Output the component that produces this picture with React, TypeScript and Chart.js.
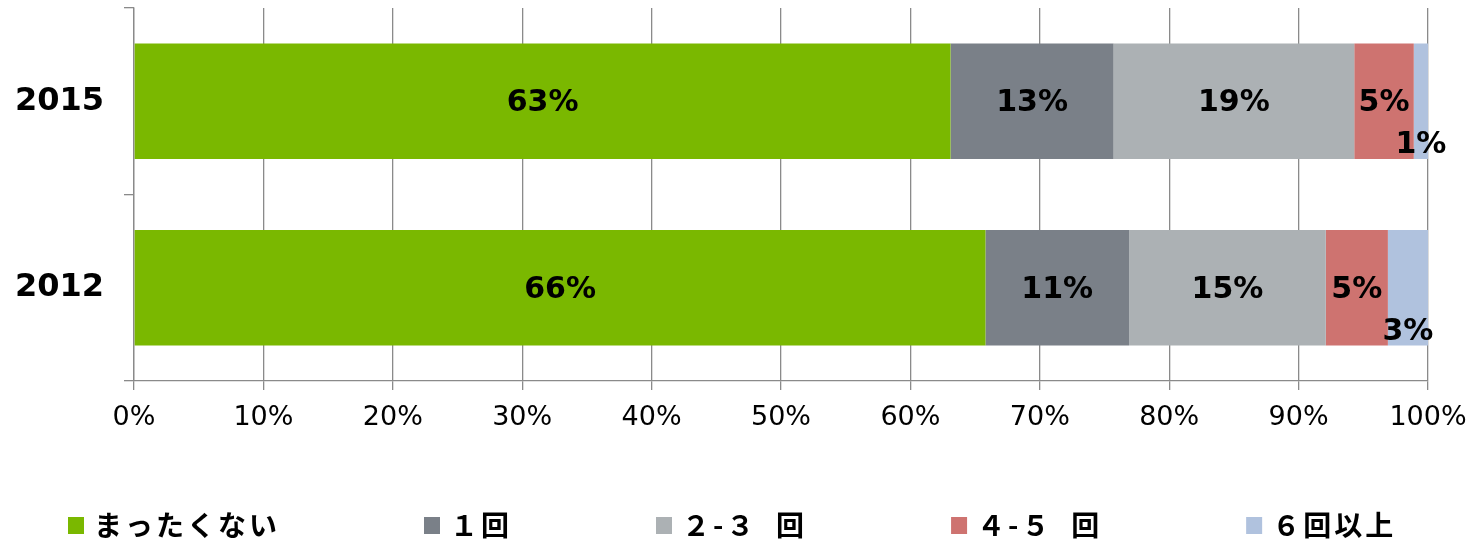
import React, { useEffect, useRef } from "react";
import { Chart, registerables } from "chart.js";

Chart.register(...registerables);

const categories = ["2015", "2012"];
const seriesNames = ["まったくない", "１回", "２-３  回", "４-５  回", "６回以上"];
const neverValues = [63.1, 65.8];
const onceValues = [12.6, 11.1];
const twoThreeValues = [18.6, 15.2];
const fourFiveValues = [4.6, 4.8];
const sixPlusValues = [1.1, 3.1];
const xTickValues = [0, 10, 20, 30, 40, 50, 60, 70, 80, 90, 100];

const colors = ["#7AB800", "#7A8088", "#ACB1B4", "#CE7370", "#B0C2DE"];
const labelOffsetY = [0, 0, 0, 0, 42];
const GRID = "#8a8a8a";

const dataLabelPlugin = {
  id: "dataLabels",
  afterDatasetsDraw(chart: any) {
    const ctx = chart.ctx;
    ctx.save();
    ctx.font = "bold 30px 'DejaVu Sans'";
    ctx.fillStyle = "#000";
    ctx.textAlign = "center";
    ctx.textBaseline = "middle";
    chart.data.datasets.forEach((ds: any, di: number) => {
      const meta = chart.getDatasetMeta(di);
      meta.data.forEach((bar: any, i: number) => {
        const v = ds.data[i];
        const cx = (bar.x + bar.base) / 2;
        const cy = bar.y + (labelOffsetY[di] || 0);
        ctx.fillText(Math.round(v) + "%", cx, cy + 2);
      });
    });
    ctx.restore();
  },
};

const legendPlugin = {
  id: "customLegend",
  afterDraw(chart: any) {
    const ctx = chart.ctx;
    ctx.save();
    ctx.font = "bold 28px 'Noto Sans CJK JP'";
    (ctx as any).letterSpacing = "3px";
    ctx.textBaseline = "middle";
    ctx.textAlign = "left";
    let x = 68;
    const y = 525;
    chart.data.datasets.forEach((ds: any) => {
      ctx.fillStyle = ds.backgroundColor;
      ctx.fillRect(x, y - 8, 16, 17);
      ctx.fillStyle = "#000";
      const tx = x + 26;
      ctx.fillText(ds.label, tx, y);
      const w = ctx.measureText(ds.label).width;
      x = tx + w + 144;
    });
    ctx.restore();
  },
};

export default function App() {
  const ref = useRef<HTMLCanvasElement | null>(null);
  useEffect(() => {
    if (!ref.current) return;
    const seriesValues = [neverValues, onceValues, twoThreeValues, fourFiveValues, sixPlusValues];
    const chart = new Chart(ref.current, {
      type: "bar",
      data: {
        labels: categories,
        datasets: seriesNames.map((name, i) => ({
          label: name,
          data: seriesValues[i],
          backgroundColor: colors[i],
          borderWidth: 0,
          categoryPercentage: 1,
          barPercentage: 0.62,
        })),
      },
      options: {
        indexAxis: "y",
        animation: false,
        responsive: true,
        maintainAspectRatio: false,
        layout: { padding: { left: 0, right: 50, top: 8, bottom: 100 } },
        plugins: { legend: { display: false }, tooltip: { enabled: false } },
        scales: {
          x: {
            stacked: true,
            min: 0,
            max: 100,
            afterFit(scale: any) {
              scale.height = 60;
              scale.paddingLeft = 0;
              scale.paddingRight = 0;
            },
            afterBuildTicks(scale: any) {
              scale.ticks = xTickValues.map((v) => ({ value: v }));
            },
            ticks: {
              callback: (v: any) => v + "%",
              color: "#000",
              font: { family: "'DejaVu Sans'", size: 27 },
              padding: 12,
              maxRotation: 0,
              autoSkip: false,
            },
            grid: { color: GRID, lineWidth: 1.3, tickLength: 9 },
            border: { color: GRID, width: 1.3 },
          },
          y: {
            stacked: true,
            afterFit(scale: any) {
              scale.width = 134;
              scale.paddingTop = 0;
              scale.paddingBottom = 0;
            },
            ticks: {
              color: "#000",
              font: { family: "'DejaVu Sans'", size: 32, weight: "bold" },
              padding: 20,
            },
            grid: { offset: true, drawOnChartArea: false, color: GRID, lineWidth: 1.3, tickLength: 10 },
            border: { color: GRID, width: 1.3 },
          },
        },
      },
      plugins: [dataLabelPlugin, legendPlugin],
    } as any);
    return () => chart.destroy();
  }, []);
  return (
    <div style={{ position: "absolute", left: 0, top: 0, width: 1478, height: 541, background: "#fff" }}>
      <canvas ref={ref} />
    </div>
  );
}
